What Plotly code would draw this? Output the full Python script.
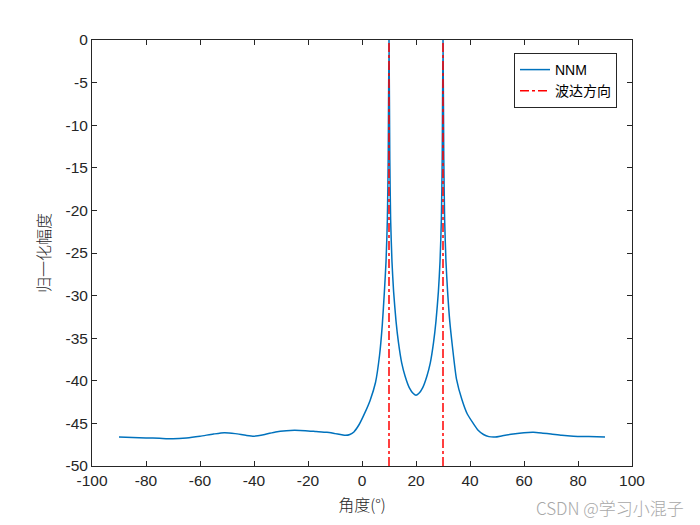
import plotly.graph_objects as go

# NNM spatial spectrum (normalized, dB)
angle = [-90, -85, -80, -75, -70, -65, -60, -55, -51, -47, -43, -40, -36, -32, -28, -25,
         -21, -17, -13, -10, -8, -6, -4.5, -3, -1, 1, 3, 5, 6.5, 7.5, 8.3, 8.9, 9.4, 9.7,
         10, 10.3, 10.6, 11.1, 11.7, 12.6, 13.5, 14.7, 16, 17.5, 19, 20, 21, 22.5, 24,
         25.3, 26.5, 27.4, 28.3, 28.9, 29.4, 29.7, 30, 30.3, 30.6, 31.1, 31.7, 32.5, 33.5,
         35, 37, 39, 41.2, 43, 45, 47, 49.3, 52, 56, 60, 63.5, 67, 70, 74, 78.3, 84, 90]
nnm = [-46.6, -46.65, -46.7, -46.75, -46.8, -46.7, -46.5, -46.25, -46.1, -46.2, -46.4, -46.5,
       -46.3, -46.0, -45.85, -45.8, -45.85, -45.95, -46.05, -46.2, -46.3, -46.4, -46.3, -46.0,
       -45.1, -43.8, -42.3, -40.2, -37.0, -33.5, -29.5, -26.0, -21.0, -14.0,
       0.0, -14.0, -21.0, -26.0, -29.5, -33.0, -35.5, -37.9, -39.5, -40.8, -41.5, -41.7,
       -41.5, -40.8, -39.5, -37.9, -35.5, -33.0, -29.5, -26.0, -21.0, -14.0,
       0.0, -14.0, -21.0, -26.0, -29.5, -33.0, -36.0, -39.8, -42.2, -43.9, -45.0, -45.8,
       -46.3, -46.55, -46.6, -46.45, -46.25, -46.1, -46.05, -46.15, -46.25, -46.4, -46.5,
       -46.55, -46.6]
doa = [10, 30]
doa_range = [-50, 0]

x_ticks = [-100, -80, -60, -40, -20, 0, 20, 40, 60, 80, 100]
y_ticks = [0, -5, -10, -15, -20, -25, -30, -35, -40, -45, -50]

fig = go.Figure()
fig.add_trace(go.Scatter(x=angle, y=nnm, mode="lines", name="NNM",
                         line=dict(color="#0072BD", width=1.5, shape="spline", smoothing=0.6)))
dx, dy = [], []
for d in doa:
    dx += [d, d, None]
    dy += [doa_range[0], doa_range[1], None]
fig.add_trace(go.Scatter(x=dx, y=dy, mode="lines", name="波达方向",
                         line=dict(color="#FF0000", width=1.5, dash="dashdot")))

tick_font = dict(family="Liberation Sans, Arial", size=15.5, color="#262626")
title_font = dict(family="Noto Sans CJK SC", size=16, color="#262626", weight=300)
axis_common = dict(showline=True, linecolor="#262626", linewidth=1, mirror="ticks",
                   ticks="inside", ticklen=5, tickcolor="#262626", showgrid=False,
                   zeroline=False, tickfont=tick_font)
fig.update_xaxes(range=[-100, 100], tickvals=x_ticks, ticktext=[str(v) for v in x_ticks],
                 title=dict(text="角度(°)", font=title_font, standoff=12), **axis_common)
fig.update_yaxes(range=[-50, 0], tickvals=y_ticks, ticktext=[str(v) for v in y_ticks],
                 title=dict(text="归一化幅度", font=title_font, standoff=10), **axis_common)

pw = 700 - 92 - 68
ph = 525 - 40 - 59
fig.update_layout(
    width=700, height=525,
    margin=dict(l=92, r=68, t=40, b=59),
    paper_bgcolor="white", plot_bgcolor="white",
    showlegend=True,
    legend=dict(x=(617 - 92) / pw, y=(466 - 53) / ph, xanchor="right", yanchor="top",
                bordercolor="#262626", borderwidth=1, bgcolor="white",
                font=dict(family="Liberation Sans, Noto Sans CJK SC", size=14, color="#000000"),
                tracegroupgap=0, itemwidth=30),
    annotations=[dict(text="CSDN @学习小混子", x=(686 - 92) / pw, y=(466 - 507) / ph,
                      xref="paper", yref="paper", showarrow=False,
                      font=dict(family="Noto Sans CJK SC", size=17, color="#A8A8A8", weight=300),
                      xanchor="right", yanchor="middle")],
)
fig.write_html("out.html")
